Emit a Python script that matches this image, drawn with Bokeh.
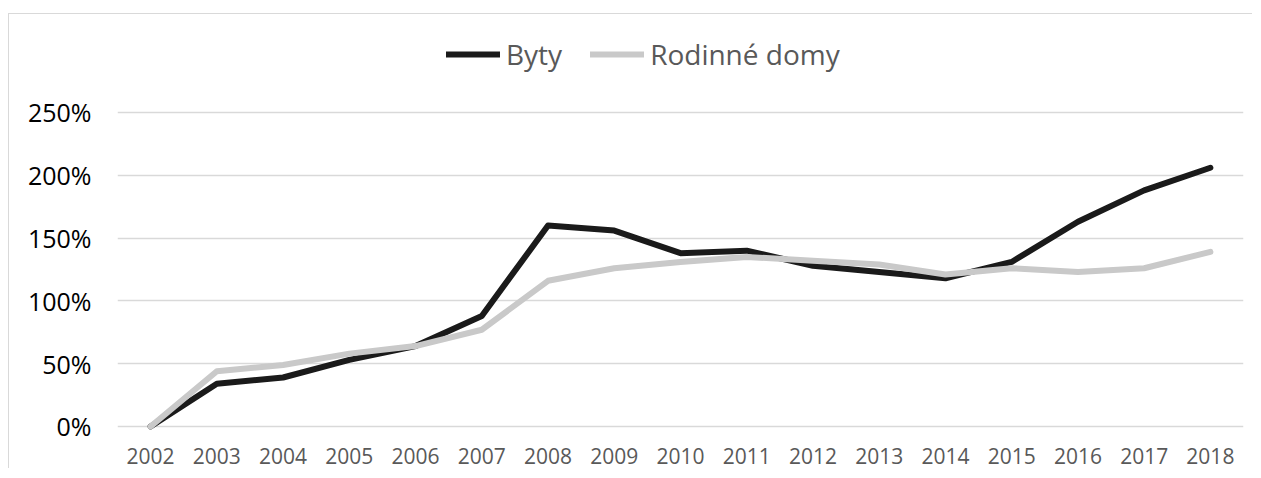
from bokeh.plotting import figure
from bokeh.models import FactorRange, Range1d, Legend, LegendItem, FixedTicker
from bokeh.embed import file_html
from bokeh.resources import INLINE

years = [str(y) for y in range(2002, 2019)]
byty = [0, 34, 39, 53, 64, 88, 160, 156, 138, 140, 128, 123, 118, 131, 163, 188, 206]
domy = [0, 44, 49, 58, 64, 77, 116, 126, 131, 135, 132, 129, 121, 126, 123, 126, 139]
y_ticks = [0, 50, 100, 150, 200, 250]
y_labels = {0: "0%", 50: "50%", 100: "100%", 150: "150%", 200: "200%", 250: "250%"}

FONT = "Open Sans"

p = figure(width=1244, height=455, x_range=FactorRange(factors=years, range_padding=0),
           y_range=Range1d(-4, 320.06), output_backend="svg", toolbar_location=None,
           min_border_left=108, min_border_right=10, min_border_top=10, min_border_bottom=38)
p.styles = {"border-top": "1px solid #d9d9d9", "border-left": "1px solid #d9d9d9",
            "margin-top": "13px", "margin-left": "8px"}
p.outline_line_color = None
p.xgrid.grid_line_color = None
p.ygrid.grid_line_color = "#d9d9d9"
p.ygrid.grid_line_width = 1.5
p.yaxis.ticker = FixedTicker(ticks=y_ticks)
p.yaxis.major_label_overrides = y_labels
for ax in (p.xaxis[0], p.yaxis[0]):
    ax.axis_line_color = None
    ax.major_tick_line_color = None
    ax.minor_tick_line_color = None
    ax.major_label_text_font = FONT
p.yaxis.major_label_text_font_size = "25px"
p.yaxis.major_label_text_color = "#000000"
p.yaxis.major_label_standoff = 20
p.xaxis.major_label_text_font_size = "21px"
p.xaxis.major_label_text_color = "#595959"
p.xaxis.major_label_standoff = 10

r1 = p.line(years, byty, line_color="#1a1a1a", line_width=6, line_join="round", line_cap="round")
r2 = p.line(years, domy, line_color="#c9c9c9", line_width=6, line_join="round", line_cap="round")

legend = Legend(items=[LegendItem(label="Byty", renderers=[r1]), LegendItem(label="Rodinné domy", renderers=[r2])],
                orientation="horizontal", location=(329, 358), glyph_width=54, glyph_height=34,
                label_height=34, label_standoff=6, spacing=28, padding=0, margin=0,
                border_line_color=None, background_fill_alpha=0,
                label_text_font=FONT, label_text_font_size="28px", label_text_color="#595959")
p.add_layout(legend, "center")

open("out.html", "w").write(file_html(p, INLINE))
